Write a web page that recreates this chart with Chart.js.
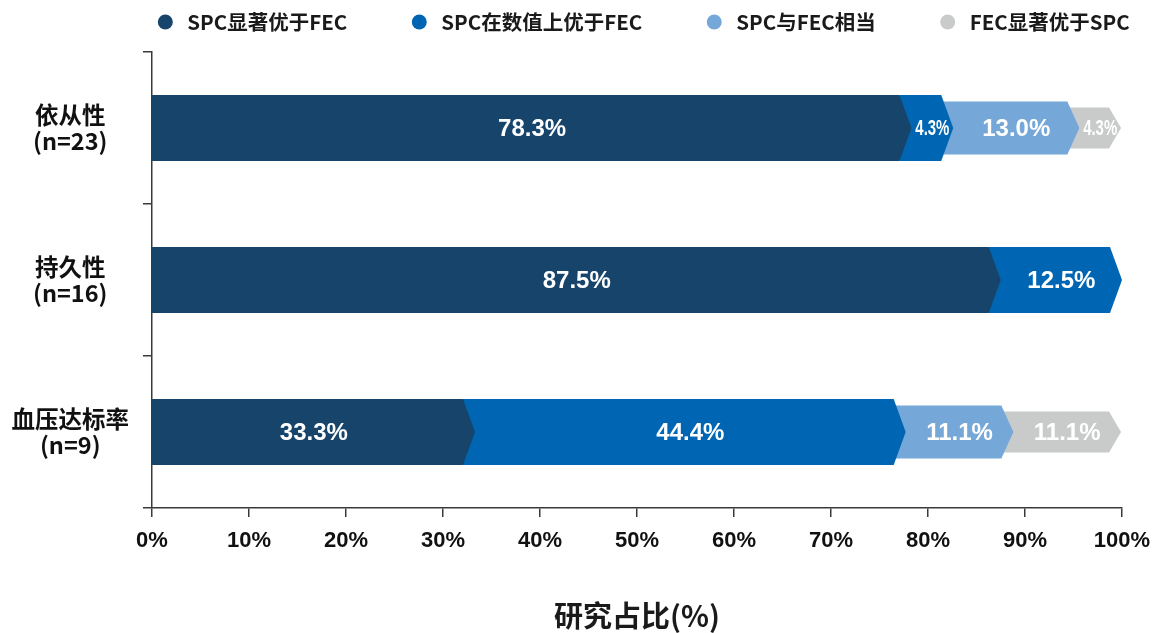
<!DOCTYPE html>
<html>
<head>
<meta charset="utf-8">
<script src="https://cdn.jsdelivr.net/npm/chart.js@4.4.1/dist/chart.umd.min.js"></script>
<style>
  html, body { margin: 0; padding: 0; background: #fff; }
  #wrap { width: 1153px; height: 633px; }
</style>
</head>
<body>
<div id="wrap"><canvas id="chart"></canvas></div>
<script>
const categories = [['依从性', '(n=23)'], ['持久性', '(n=16)'], ['血压达标率', '(n=9)']];
const seriesNames = ['SPC显著优于FEC', 'SPC在数值上优于FEC', 'SPC与FEC相当', 'FEC显著优于SPC'];
const spcSignificant = [78.3, 87.5, 33.3];
const spcNumerical = [4.3, 12.5, 44.4];
const spcEqual = [13.0, null, 11.1];
const fecSignificant = [4.3, null, 11.1];
const xTicks = [0, 10, 20, 30, 40, 50, 60, 70, 80, 90, 100];

const colors = ['#17446b', '#0066b3', '#75a7d8', '#c9caca'];
const thickness = [66, 66, 53, 41];
const arrowDepth = 12;
const cjk = '"Noto Sans CJK SC", "Noto Sans", sans-serif';
const latin = '"Liberation Sans", Arial, sans-serif';

const seriesValues = [spcSignificant, spcNumerical, spcEqual, fecSignificant];

// draw bars as chevrons, earlier segments on top of later ones
const chevronBars = {
  id: 'chevronBars',
  beforeDatasetDraw: () => false,
  afterDatasetsDraw(chart) {
    const { ctx } = chart;
    const axisLeft = chart.scales.x.getPixelForValue(0);
    for (let d = chart.data.datasets.length - 1; d >= 0; d--) {
      const meta = chart.getDatasetMeta(d);
      meta.data.forEach((el, i) => {
        const v = chart.data.datasets[d].data[i];
        if (v == null || v === 0) return;
        const { x, base, y, height } = el.getProps(['x', 'base', 'y', 'height'], true);
        const left = Math.min(base, x);
        const start = Math.abs(left - axisLeft) < 3 ? axisLeft : left - arrowDepth;
        const half = height / 2;
        ctx.save();
        ctx.fillStyle = colors[d];
        ctx.beginPath();
        ctx.moveTo(start, y - half);
        ctx.lineTo(x - arrowDepth, y - half);
        ctx.lineTo(x, y);
        ctx.lineTo(x - arrowDepth, y + half);
        ctx.lineTo(start, y + half);
        ctx.closePath();
        ctx.fill();
        ctx.restore();
      });
    }
    // value labels
    chart.data.datasets.forEach((ds, d) => {
      chart.getDatasetMeta(d).data.forEach((el, i) => {
        const v = ds.data[i];
        if (v == null || v === 0) return;
        const { x, base, y } = el.getProps(['x', 'base', 'y'], true);
        const text = v.toFixed(1) + '%';
        const cx = (base + x) / 2;
        ctx.save();
        ctx.fillStyle = '#ffffff';
        ctx.textAlign = 'center';
        ctx.textBaseline = 'middle';
        if (v < 6) {
          ctx.font = 'bold 22px ' + latin;
          ctx.translate(cx, y + 1);
          ctx.scale(0.68, 1);
          ctx.fillText(text, 0, 0);
        } else {
          ctx.font = 'bold 24px ' + latin;
          ctx.fillText(text, cx, y + 1);
        }
        ctx.restore();
      });
    });
  },
  afterDraw(chart) {
    // legend
    const { ctx } = chart;
    ctx.save();
    ctx.font = 'bold 20.5px ' + cjk;
    ctx.textBaseline = 'middle';
    const gap = 72, textOffset = 22, radius = 7.5;
    const widths = seriesNames.map((n) => ctx.measureText(n).width);
    const total = widths.reduce((a, b) => a + b, 0) + seriesNames.length * textOffset + (seriesNames.length - 1) * gap;
    let x = 640 - total / 2 + radius;
    seriesNames.forEach((name, i) => {
      ctx.fillStyle = colors[i];
      ctx.beginPath();
      ctx.arc(x, 22, radius, 0, Math.PI * 2);
      ctx.fill();
      ctx.fillStyle = '#1a1a1a';
      ctx.fillText(name, x + textOffset, 22);
      x += textOffset + widths[i] + gap;
    });
    ctx.restore();
  },
};

new Chart(document.getElementById('chart'), {
  type: 'bar',
  data: {
    labels: categories,
    datasets: seriesNames.map((name, d) => ({
      label: name,
      data: seriesValues[d],
      backgroundColor: colors[d],
      barThickness: thickness[d],
    })),
  },
  options: {
    indexAxis: 'y',
    responsive: true,
    maintainAspectRatio: false,
    animation: false,
    layout: { padding: { top: 52, right: 31, left: 0, bottom: 0 } },
    plugins: { legend: { display: false }, tooltip: { enabled: false } },
    scales: {
      x: {
        stacked: true,
        min: 0,
        max: 100,
        afterFit: (scale) => {
          scale.height = 125;
          scale.paddingRight = 0;
          scale.paddingLeft = 0;
        },
        afterBuildTicks: (scale) => { scale.ticks = xTicks.map((v) => ({ value: v })); },
        border: { color: '#3a3a3a', width: 1.5 },
        grid: { drawOnChartArea: false, color: '#3a3a3a', lineWidth: 1.5, tickLength: 9 },
        ticks: {
          color: '#111',
          padding: 11,
          maxRotation: 0,
          font: { family: latin, size: 22, weight: 'bold' },
          callback: (v) => v + '%',
        },
        title: {
          display: true,
          text: '研究占比(%)',
          color: '#1a1a1a',
          padding: { top: 0, bottom: 0 },
          font: { family: cjk, size: 29, weight: 'bold' },
        },
      },
      y: {
        stacked: true,
        afterFit: (scale) => { scale.width = 152; },
        border: { color: '#3a3a3a', width: 1.5 },
        grid: { drawOnChartArea: false, color: '#3a3a3a', lineWidth: 1.5, tickLength: 9, offset: true },
        ticks: {
          color: '#111',
          crossAlign: 'center',
          padding: 14,
          font: { family: cjk, size: 23.5, weight: 'bold', lineHeight: 1.08 },
        },
      },
    },
  },
  plugins: [chevronBars],
});
</script>
</body>
</html>
